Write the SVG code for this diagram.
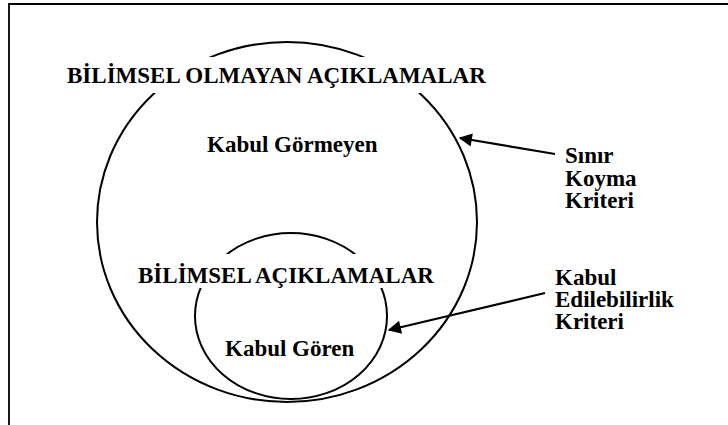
<svg xmlns="http://www.w3.org/2000/svg" width="728" height="425" viewBox="0 0 728 425">
<defs>
<style>
.c{fill:none;stroke:#000;stroke-width:2}
.bg{fill:#fff}
.a{stroke:#000;stroke-width:2.2;fill:none}
</style>
<marker id="ah" viewBox="0 0 10 10" refX="9" refY="5" markerWidth="7" markerHeight="6" markerUnits="strokeWidth" orient="auto">
<path d="M0,0 L10,5 L0,10 z" fill="#000"/>
</marker>
</defs>
<rect width="728" height="425" fill="#fff"/>
<g id="frame"><path d="M9,426 V4 H729" fill="none" stroke="#000" stroke-width="1.8"/></g>
<g font-family="'Liberation Serif', 'Times New Roman', serif" font-weight="bold" font-size="23" fill="#000">
<g id="outer">
<ellipse class="c" cx="287" cy="222" rx="190" ry="180"/>
<rect class="bg" x="62" y="57" width="450" height="36"/>
<text x="67" y="83">BİLİMSEL OLMAYAN AÇIKLAMALAR</text>
<text x="207" y="152">Kabul Görmeyen</text>
</g>
<g id="inner">
<ellipse class="c" cx="291" cy="316" rx="96" ry="83"/>
<rect class="bg" x="134" y="254" width="310" height="34"/>
<text x="138" y="283">BİLİMSEL AÇIKLAMALAR</text>
<text x="225" y="356">Kabul Gören</text>
</g>
<g id="label1">
<text><tspan x="565" y="163">Sınır</tspan><tspan x="565" y="185.5">Koyma</tspan><tspan x="565" y="208">Kriteri</tspan></text>
</g>
<g id="label2">
<text><tspan x="555" y="285">Kabul</tspan><tspan x="555" y="307">Edilebilirlik</tspan><tspan x="555" y="329">Kriteri</tspan></text>
</g>
</g>
<g id="connectors">
<line class="a" x1="555" y1="154" x2="460" y2="138" marker-end="url(#ah)"/>
<line class="a" x1="545" y1="293" x2="389" y2="330" marker-end="url(#ah)"/>
</g>
</svg>
